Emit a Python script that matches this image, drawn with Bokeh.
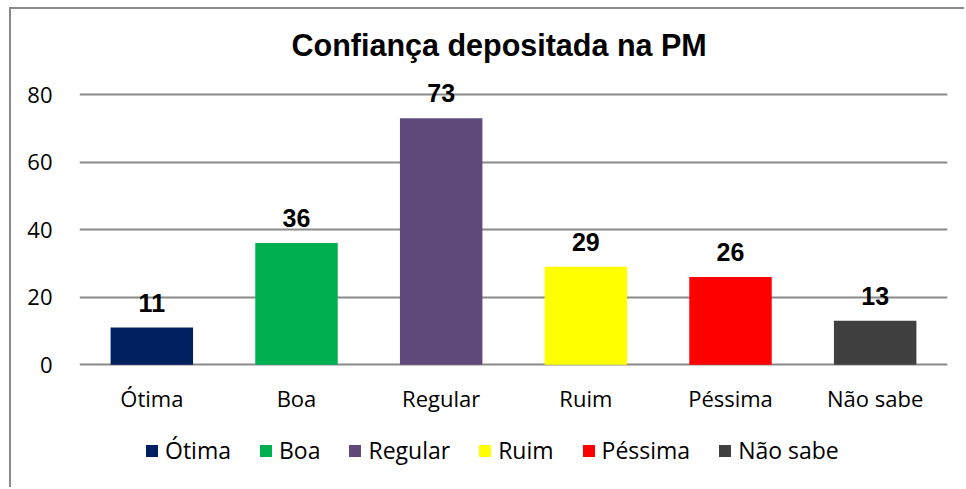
from bokeh.plotting import figure
from bokeh.models import ColumnDataSource, LabelSet, Legend, LegendItem, Title, FixedTicker
from bokeh.core.properties import value
from bokeh.embed import file_html
from bokeh.resources import INLINE

categories = ["Ótima", "Boa", "Regular", "Ruim", "Péssima", "Não sabe"]
values = [11, 36, 73, 29, 26, 13]
colors = ["#002060", "#00B050", "#604A7B", "#FFFF00", "#FF0000", "#404040"]
y_ticks = [0, 20, 40, 60, 80]
title_text = "Confiança depositada na PM"

src = ColumnDataSource(dict(cat=categories, val=values, color=colors,
                            lab=[str(v) for v in values], zero=[0] * len(categories)))

p = figure(x_range=categories, y_range=(-34, 88), width=955, height=480,
           output_backend="svg", toolbar_location=None,
           min_border_left=68, min_border_right=19, min_border_top=58,
           min_border_bottom=10)
p.margin = (7, 0, 0, 9)
p.title = None
p.add_layout(Title(text=title_text, text_font="Liberation Sans", text_font_size="30.5px",
                   text_font_style="bold", text_color="#000000", align="left",
                   offset=212, standoff=12), "above")
p.outline_line_color = None
p.background_fill_color = "white"
p.border_fill_color = "white"
p.styles = {"border-left": "2px solid #8a8a8a", "border-top": "2px solid #8a8a8a"}

renderers = []
for i, c in enumerate(categories):
    view_src = ColumnDataSource(dict(cat=[c], val=[values[i]], color=[colors[i]]))
    r = p.vbar(x="cat", top="val", width=0.57, color="color", source=view_src, line_color=None)
    renderers.append(r)

labels = LabelSet(x="cat", y="val", text="lab", source=src, text_align="center",
                  text_baseline="alphabetic", y_offset=16,
                  text_font=value("Liberation Sans"),
                  text_font_size=value("25px"), text_font_style="bold", text_color="#000000")
p.add_layout(labels)

cat_labels = LabelSet(x="cat", y="zero", text="cat", source=src, text_align="center",
                      text_baseline="alphabetic", y_offset=-42,
                      text_font=value("Open Sans"), text_font_size=value("22px"),
                      text_color="#000000")
p.add_layout(cat_labels)

p.xaxis.visible = False
p.xgrid.grid_line_color = None
p.ygrid.ticker = FixedTicker(ticks=y_ticks)
p.ygrid.grid_line_color = "#8a8a8a"
p.ygrid.grid_line_width = 2
p.yaxis.ticker = FixedTicker(ticks=y_ticks)
p.yaxis.axis_line_color = None
p.yaxis.major_tick_line_color = None
p.yaxis.minor_tick_line_color = None
p.yaxis.major_label_standoff = 21
p.yaxis.major_label_text_font = "Open Sans"
p.yaxis.major_label_text_font_size = "22px"
p.yaxis.major_label_text_color = "#000000"

items = [LegendItem(label=c, renderers=[renderers[i]]) for i, c in enumerate(categories)]
legend = Legend(items=items, orientation="horizontal", location=(65, 13),
                label_text_font="Open Sans", label_text_font_size="23px",
                label_text_color="#000000", glyph_width=15, glyph_height=15,
                label_standoff=6, spacing=27, padding=0, margin=0, label_height=30,
                border_line_color=None, background_fill_alpha=0)
p.add_layout(legend, "center")

open("out.html", "w").write(file_html(p, INLINE))
